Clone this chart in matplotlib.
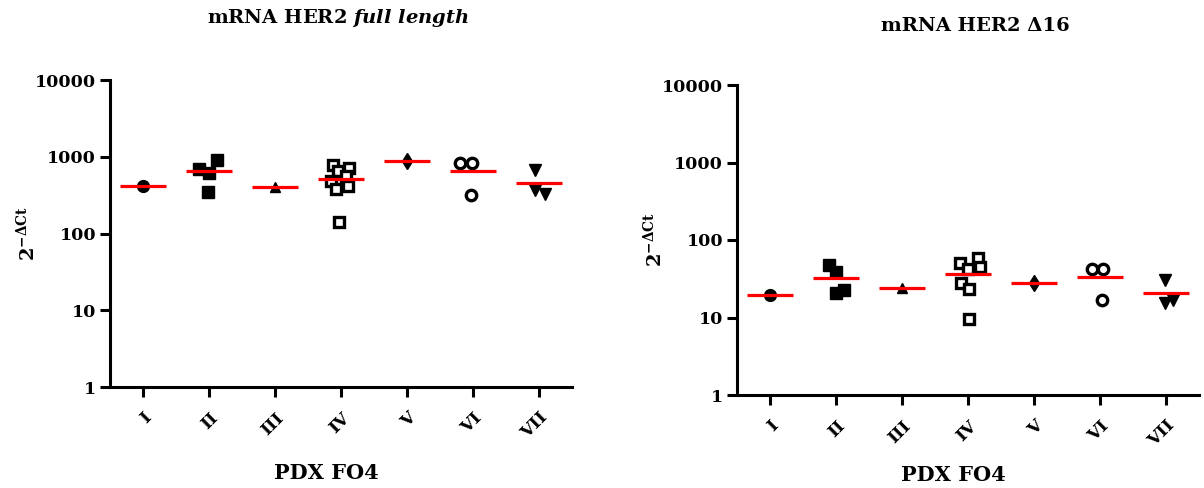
import numpy as np
import matplotlib
matplotlib.use("Agg")
import matplotlib.pyplot as plt

plt.rcParams['font.family'] = ['DejaVu Serif']
plt.rcParams['font.weight'] = 'bold'
plt.rcParams['mathtext.fontset'] = 'custom'
plt.rcParams['mathtext.rm'] = 'DejaVu Serif:bold'
plt.rcParams['mathtext.bf'] = 'DejaVu Serif:bold'
plt.rcParams['mathtext.it'] = 'DejaVu Serif:bold:italic'

# ---------------- data ----------------
categories = ["I", "II", "III", "IV", "V", "VI", "VII"]
yticks = [1, 10, 100, 1000, 10000]
ytick_labels = ["1", "10", "100", "1000", "10000"]

fl_I = [420]
fl_II = [910, 700, 620, 350]
fl_III = [405]
fl_IV = [780, 720, 650, 560, 480, 420, 380, 140]
fl_V = [890]
fl_VI = [840, 820, 320]
fl_VII = [680, 370, 330]

d16_I = [19.5]
d16_II = [47, 39, 22.5, 20.5]
d16_III = [24.3]
d16_IV = [58, 50, 45, 42, 28, 23, 9.5]
d16_V = [28]
d16_VI = [42, 42, 17]
d16_VII = [30.5, 17, 15.3]

full_length = [fl_I, fl_II, fl_III, fl_IV, fl_V, fl_VI, fl_VII]
delta16 = [d16_I, d16_II, d16_III, d16_IV, d16_V, d16_VI, d16_VII]

# horizontal spread of overlapping points (category units)
jitter_fl = [[0], [0.12, -0.15, 0.0, -0.02], [0], [-0.12, 0.12, -0.05, 0.08, -0.15, 0.1, -0.08, -0.03],
             [0], [-0.2, -0.02, -0.03], [-0.06, -0.06, 0.09]]
jitter_d16 = [[0], [-0.1, 0.0, 0.12, 0.0], [0], [0.15, -0.12, 0.18, 0.0, -0.1, 0.02, 0.02],
              [0], [-0.12, 0.05, 0.03], [-0.02, 0.1, -0.02]]

styles = [
    dict(marker='o', ms=8.5, mfc='black', mec='black', mew=1),
    dict(marker='s', ms=9, mfc='black', mec='black', mew=1),
    dict(marker='^', ms=7, mfc='black', mec='black', mew=1),
    dict(marker='s', ms=7.5, mfc='white', mec='black', mew=2.4),
    dict(marker='d', ms=8.5, mfc='black', mec='black', mew=1),
    dict(marker='o', ms=7.5, mfc='white', mec='black', mew=2.4),
    dict(marker='v', ms=9, mfc='black', mec='black', mew=1),
]

W, H = 1204, 488
fig = plt.figure(figsize=(W / 100, H / 100), dpi=100)


def px_axes(x0, x1, ytop, ybot):
    return fig.add_axes([x0 / W, (H - ybot) / H, (x1 - x0) / W, (ybot - ytop) / H])


def draw(ax, data, jit):
    x = np.arange(1, len(categories) + 1)
    for i, vals in enumerate(data):
        xs = x[i] + np.array(jit[i])
        ax.plot(xs, vals, linestyle='none', zorder=3, clip_on=False, **styles[i])
        m = np.mean(vals)
        ax.plot([x[i] - 0.35, x[i] + 0.35], [m, m], color='#ff0000', lw=2.3, zorder=4,
                solid_capstyle='butt')
    ax.set_yscale('log')
    ax.set_ylim(1, 10000)
    ax.set_xlim(0.5, len(categories) + 0.5)
    ax.set_yticks(yticks)
    ax.set_yticklabels(ytick_labels)
    ax.yaxis.set_minor_locator(matplotlib.ticker.NullLocator())
    ax.set_xticks(x)
    ax.set_xticklabels(categories, rotation=45, ha='right', va='top', rotation_mode='anchor')
    for s in ['top', 'right']:
        ax.spines[s].set_visible(False)
    for s in ['left', 'bottom']:
        ax.spines[s].set_linewidth(2.2)
    ax.tick_params(axis='both', width=2.2, length=7, labelsize=12.5, pad=3)
    ax.tick_params(axis='x', pad=9)
    for t in ax.get_xticklabels() + ax.get_yticklabels():
        t.set_fontweight('bold')
    ax.set_ylabel(r'$\mathbf{2^{-\Delta Ct}}$', fontsize=14, labelpad=-3)


ax1 = px_axes(110, 572, 80, 387)
draw(ax1, full_length, jitter_fl)
ax2 = px_axes(737, 1199, 85, 395)
draw(ax2, delta16, jitter_d16)

fig.text(338 / W, 1 - 18 / H, r'mRNA HER2 $\mathit{full\ length}$', ha='center', va='center',
         fontsize=14, fontweight='bold')
fig.text(975 / W, 1 - 26 / H, 'mRNA HER2 \u039416', ha='center', va='center',
         fontsize=14, fontweight='bold')
fig.text(326 / W, 1 - 473 / H, 'PDX FO4', ha='center', va='center', fontsize=15, fontweight='bold')
fig.text(953 / W, 1 - 475 / H, 'PDX FO4', ha='center', va='center', fontsize=15, fontweight='bold')

fig.savefig('out.png', dpi=100)
